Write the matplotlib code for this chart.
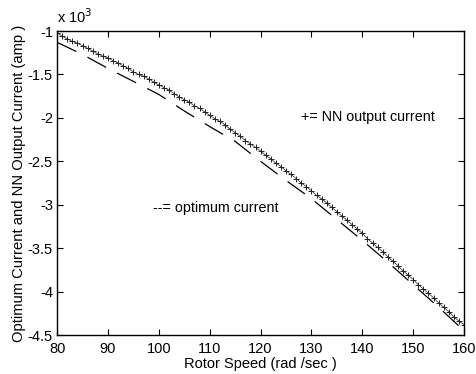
import matplotlib
matplotlib.use("Agg")
import matplotlib.pyplot as plt
import numpy as np

plt.rcParams['font.family'] = ['Liberation Sans', 'DejaVu Sans']

opt_speed = [80, 85, 90, 95, 100, 105, 110, 115, 120, 125, 130, 135, 140, 145, 150, 155, 160]
opt_current = [-1.13, -1.27, -1.43, -1.58, -1.73, -1.92, -2.10, -2.27, -2.50, -2.72,
               -2.93, -3.17, -3.41, -3.66, -3.92, -4.18, -4.45]

nn_speed = list(range(80, 161))
nn_current = [-1.02, -1.06, -1.09, -1.12, -1.14, -1.17, -1.20, -1.23, -1.26, -1.29,
              -1.31, -1.34, -1.37, -1.40, -1.43, -1.47, -1.50, -1.52, -1.55, -1.59,
              -1.62, -1.65, -1.68, -1.72, -1.76, -1.79, -1.82, -1.86, -1.89, -1.93,
              -1.97, -2.01, -2.04, -2.08, -2.13, -2.17, -2.21, -2.26, -2.30, -2.34,
              -2.38, -2.43, -2.47, -2.52, -2.56, -2.61, -2.65, -2.70, -2.75, -2.79,
              -2.84, -2.89, -2.93, -2.98, -3.03, -3.08, -3.13, -3.18, -3.23, -3.28,
              -3.33, -3.39, -3.44, -3.49, -3.54, -3.60, -3.65, -3.70, -3.76, -3.81,
              -3.86, -3.92, -3.97, -4.02, -4.07, -4.13, -4.18, -4.23, -4.29, -4.34,
              -4.38]

xticks = [80, 90, 100, 110, 120, 130, 140, 150, 160]
yticks = [-1, -1.5, -2, -2.5, -3, -3.5, -4, -4.5]
ytick_labels = ['-1', '-1.5', '-2', '-2.5', '-3', '-3.5', '-4', '-4.5']

fig = plt.figure(figsize=(4.76, 3.74), dpi=100)
ax = fig.add_axes([0.12, 0.104, 0.855, 0.813])

ax.plot(opt_speed, opt_current, color='black', lw=0.9, dashes=(17, 10))
ax.plot(nn_speed, nn_current, color='#222222', lw=0.5, marker='+', ms=5, mew=0.7)

ax.set_xlim(80, 160)
ax.set_ylim(-4.5, -1)
ax.set_xticks(xticks)
ax.set_yticks(yticks)
ax.set_yticklabels(ytick_labels)
ax.tick_params(direction='in', top=True, right=True, labelsize=10.5, length=4, width=0.8)
ax.tick_params(axis='x', pad=5)
ax.tick_params(axis='y', pad=3)
for s in ax.spines.values():
    s.set_linewidth(1.0)

ax.set_xlabel('Rotor Speed (rad /sec )', fontsize=10.5, labelpad=1)
ax.set_ylabel('Optimum Current and NN Output Current (amp )', fontsize=10.6, labelpad=1)

ax.text(128, -1.99, '+= NN output current', fontsize=10.3, va='center', ha='left')
ax.text(98.9, -3.04, '--= optimum current', fontsize=10.3, va='center', ha='left')
ax.text(0.0, 1.015, r'x 10$^{3}$', transform=ax.transAxes, fontsize=10.5, ha='left', va='bottom')

fig.savefig('out.png', dpi=100)
